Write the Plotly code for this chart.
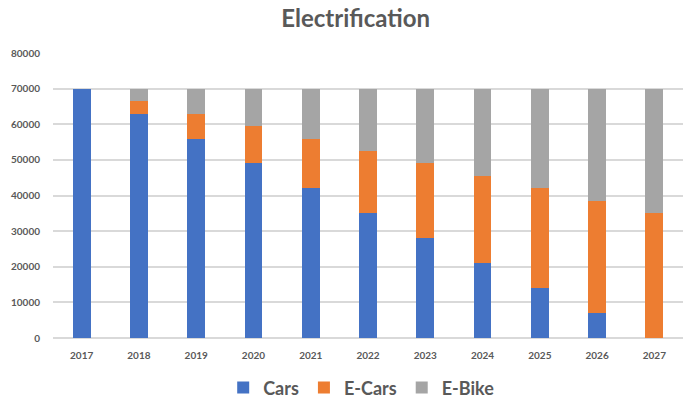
import plotly.graph_objects as go

years = ["2017", "2018", "2019", "2020", "2021", "2022", "2023", "2024", "2025", "2026", "2027"]
cars = [70000, 63000, 56000, 49000, 42000, 35000, 28000, 21000, 14000, 7000, 0]
e_cars = [0, 3500, 7000, 10500, 14000, 17500, 21000, 24500, 28000, 31500, 35000]
e_bike = [0, 3500, 7000, 10500, 14000, 17500, 21000, 24500, 28000, 31500, 35000]

series = [("Cars", cars, "#4472c4"), ("E-Cars", e_cars, "#ed7d31"), ("E-Bike", e_bike, "#a5a5a5")]

fig = go.Figure()
for name, vals, color in series:
    fig.add_trace(go.Bar(name="<b>" + name + "</b>", x=years, y=vals, marker_color=color,
                         marker_line_width=0, width=0.31))

fig.update_layout(
    barmode="stack",
    title=dict(text="<b>Electrification</b>", x=0.517, xanchor="center", y=0.975, yanchor="top",
               font=dict(family="Lato", size=24, color="#595959")),
    width=688, height=401,
    margin=dict(l=53, r=5, t=53, b=63, autoexpand=False),
    plot_bgcolor="white", paper_bgcolor="white",
    font=dict(family="Lato", color="#595959"),
    legend=dict(orientation="h", x=0.49, xanchor="center", y=-0.175, yanchor="middle",
                font=dict(size=18, color="#595959"), traceorder="normal"),
)
fig.update_xaxes(showgrid=False, tickfont=dict(size=10, color="#595959", family="Lato"),
                 ticklabelstandoff=10, tickprefix="<b>", ticksuffix="</b>")
fig.update_yaxes(range=[0, 80000], dtick=10000, tickformat="d",
                 gridcolor="#d9d9d9", gridwidth=2,
                 zeroline=True, zerolinecolor="#d9d9d9", zerolinewidth=2,
                 tickfont=dict(size=10, color="#595959", family="Lato"),
                 tickprefix="<b>", ticksuffix="</b>", ticklabelstandoff=12)

# page default has an 8px body margin; drop it so the figure fills the window
fig.write_html("out.html", config={"displayModeBar": False},
               post_script="document.body.style.margin='0';")
